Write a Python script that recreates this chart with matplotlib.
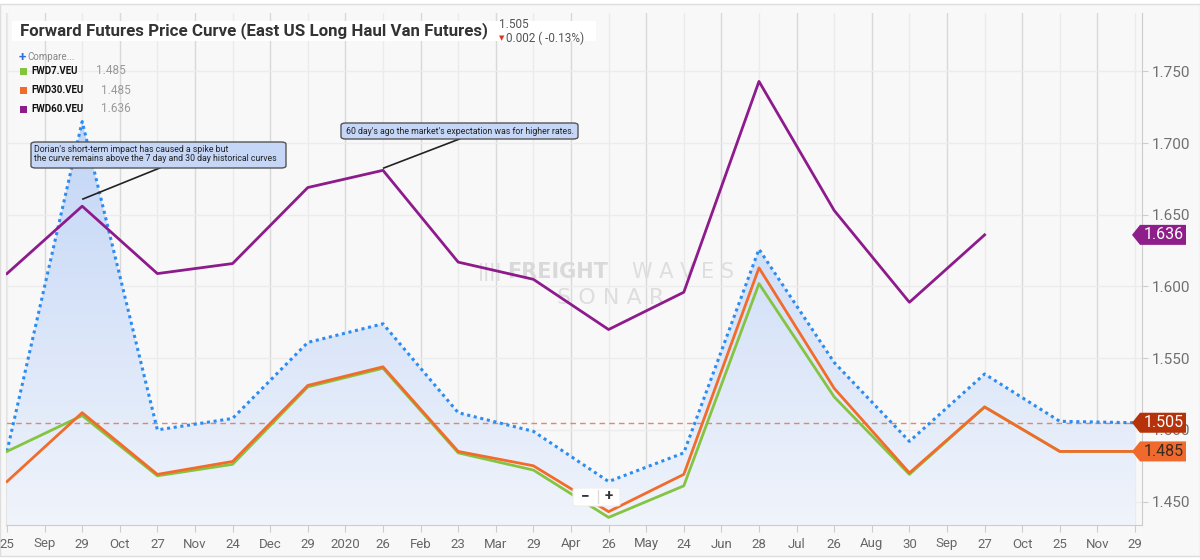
import numpy as np
import matplotlib
matplotlib.use("Agg")
import matplotlib.pyplot as plt
from matplotlib.colors import LinearSegmentedColormap
from matplotlib.patches import Rectangle, Polygon, FancyBboxPatch
import matplotlib.transforms as mtrans

plt.rcParams['font.family'] = ['Roboto', 'DejaVu Sans']

# ---------------- data ----------------
day_labels = ["25", "29", "27", "24", "29", "26", "23", "29", "26", "24",
              "28", "26", "30", "27", "25", "29"]
month_labels = ["Sep", "Oct", "Nov", "Dec", "2020", "Feb", "Mar", "Apr", "May",
                "Jun", "Jul", "Aug", "Sep", "Oct", "Nov"]

curve_main = [1.485, 1.715, 1.500, 1.508, 1.561, 1.574, 1.512, 1.499, 1.464,
              1.484, 1.626, 1.547, 1.492, 1.539, 1.506, 1.505]
fwd7 = [1.485, 1.510, 1.468, 1.476, 1.530, 1.543, 1.484, 1.472, 1.439, 1.461,
        1.602, 1.523, 1.469, 1.516, 1.485, 1.485]
fwd30 = [1.464, 1.512, 1.469, 1.478, 1.531, 1.544, 1.485, 1.475, 1.443, 1.469,
         1.613, 1.529, 1.470, 1.516, 1.485, 1.485]
fwd60 = [1.609, 1.656, 1.609, 1.616, 1.669, 1.681, 1.617, 1.605, 1.570, 1.596,
         1.743, 1.653, 1.589, 1.636]

y_ticks = [1.450, 1.500, 1.550, 1.600, 1.650, 1.700, 1.750]
last_value = 1.505

legend_names = ["FWD7.VEU", "FWD30.VEU", "FWD60.VEU"]
legend_values = ["1.485", "1.485", "1.636"]

C_BLUE = "#2d8cf0"
C_GREEN = "#84c441"
C_ORANGE = "#f26b2b"
C_PURPLE = "#8e1b8c"

W, H = 1200, 560
fig = plt.figure(figsize=(12, 5.6), dpi=100, facecolor="white")


def fx(x):
    return x / W


def fy(y):
    return 1 - y / H


# chart container background
fig.patches.append(Rectangle((fx(0), fy(556)), 1, (556 - 4) / H, transform=fig.transFigure,
                             facecolor="#f8f8f8", edgecolor="#dedede", lw=1, zorder=-10))

ax_l, ax_r, ax_t, ax_b = 6, 1142, 13, 525
ax = fig.add_axes([fx(ax_l), fy(ax_b), (ax_r - ax_l) / W, (ax_b - ax_t) / H])
ax.set_facecolor("#f8f8f8")

x_main = np.arange(len(curve_main))
x60 = np.arange(len(fwd60))
ymin, ymax = 1.4337, 1.7907
xmin, xmax = -0.013, 15.093

# gradient fill under main curve
cmap = LinearSegmentedColormap.from_list("g", ["#f0f4fb", "#b6cdf5"])
grad = np.linspace(0, 1, 256).reshape(-1, 1)
im = ax.imshow(grad, extent=[xmin, xmax, ymin, ymax], origin="lower", aspect="auto",
               cmap=cmap, zorder=1, interpolation="bicubic")
poly = ax.fill_between(x_main, curve_main, ymin, facecolor="none", edgecolor="none")
im.set_clip_path(poly.get_paths()[0], transform=ax.transData)

# grid
for i in range(len(day_labels)):
    ax.axvline(i, color="#ebebeb", lw=1, zorder=0.5)
for i in range(len(month_labels)):
    ax.axvline(i + 0.5, color="#d9d9d9", lw=1, zorder=0.5)
for t in y_ticks:
    ax.axhline(t, color="#ececec", lw=1, zorder=0.5)

# watermark
ax.text(fx(478), fy(272), "||||", transform=fig.transFigure, fontsize=12, color="#dedede",
        ha="left", va="center", zorder=1.5, fontweight="bold", family="DejaVu Sans")
ax.text(fx(507), fy(272), "FREIGHT", transform=fig.transFigure, fontsize=15, color="#d9d9d9",
        ha="left", va="center", zorder=1.5, fontweight="bold", family="DejaVu Sans")
ax.text(fx(632), fy(272), "W A V E S", transform=fig.transFigure, fontsize=15, color="#dedede",
        ha="left", va="center", zorder=1.5, family="DejaVu Sans")
ax.text(fx(611), fy(298), "S O N A R", transform=fig.transFigure, fontsize=16, color="#dedede",
        ha="center", va="center", zorder=1.5, family="DejaVu Sans")

# reference line
ax.axhline(last_value, color="#e8846a", lw=1, ls=(0, (4, 3)), zorder=2)

# series
ax.plot(x_main, curve_main, color=C_BLUE, lw=2.2, ls=(0, (1, 1.2)), zorder=3)
ax.plot(x_main, fwd7, color=C_GREEN, lw=2, zorder=4)
ax.plot(x_main, fwd30, color=C_ORANGE, lw=2, zorder=5)
ax.plot(x60, fwd60, color=C_PURPLE, lw=2, zorder=5)

ax.set_xlim(xmin, xmax)
ax.set_ylim(ymin, ymax)

# x ticks
pos = []
labs = []
for i in range(len(day_labels)):
    pos.append(i)
    labs.append(day_labels[i])
    if i < len(month_labels):
        pos.append(i + 0.5)
        labs.append(month_labels[i])
ax.set_xticks(pos)
ax.set_xticklabels(labs)
ax.tick_params(axis="x", length=5, color="#cccccc", labelcolor="#666666", labelsize=9.5, pad=4)

# y ticks on the right
ax.yaxis.tick_right()
ax.set_yticks(y_ticks)
ax.set_yticklabels([f"{t:.3f}" for t in y_ticks])
ax.tick_params(axis="y", length=4, color="#cccccc", labelcolor="#707070", labelsize=11, pad=3)

ax.spines["top"].set_visible(False)
ax.spines["left"].set_color("#e4e4e4")
ax.spines["bottom"].set_color("#cccccc")
ax.spines["right"].set_color("#cccccc")

# badges on the right axis
bt = mtrans.blended_transform_factory(ax.transAxes, ax.transData)
aw = ax_r - ax_l
tip = (1132 - ax_l) / aw
body = (1140 - ax_l) / aw
right = (1186 - ax_l) / aw
hh = 10 / 1434


def badge(v, fc, tc, text):
    p = Polygon([(tip, v), (body, v + hh), (right, v + hh), (right, v - hh), (body, v - hh)],
                closed=True, transform=bt, facecolor=fc, edgecolor="none", clip_on=False, zorder=10)
    ax.add_patch(p)
    ax.text((body + right) / 2 + 0.0005, v, text, transform=bt, ha="center", va="center",
            color=tc, fontsize=11.5, zorder=11, clip_on=False)


badge(fwd60[-1], "#8e1f8a", "white", f"{fwd60[-1]:.3f}")
badge(last_value, "#b5320a", "white", f"{last_value:.3f}")
badge(fwd30[-1], "#f06a2e", "#3a2a20", f"{fwd30[-1]:.3f}")

# annotation connectors (from point near the curve up to the callout boxes)
ax.plot([1.01, 2.03], [1.661, 1.6826], color="#222222", lw=1.2, zorder=8)
ax.plot([5.01, 6.02], [1.6826, 1.7029], color="#222222", lw=1.2, zorder=8)

fig.patches.append(FancyBboxPatch((fx(31), fy(168)), (286 - 31) / W, (168 - 142) / H,
                                  boxstyle="round,pad=0,rounding_size=0.004",
                                  transform=fig.transFigure, facecolor="#c5d6f6",
                                  edgecolor="#555555", lw=1, zorder=20))
fig.text(fx(34), fy(149.5), "Dorian's short-term impact has caused a spike but",
         fontsize=6.3, color="#222222", ha="left", va="center", zorder=21)
fig.text(fx(34), fy(158.5), "the curve remains above the 7 day and 30 day historical curves",
         fontsize=6.3, color="#222222", ha="left", va="center", zorder=21)

fig.patches.append(FancyBboxPatch((fx(341), fy(139)), (578 - 341) / W, (139 - 123) / H,
                                  boxstyle="round,pad=0,rounding_size=0.004",
                                  transform=fig.transFigure, facecolor="#c5d6f6",
                                  edgecolor="#555555", lw=1, zorder=20))
fig.text(fx(459.5), fy(131), "60 day's ago the market's expectation was for higher rates.",
         fontsize=6.3, color="#222222", ha="center", va="center", zorder=21)

# zoom buttons
fig.patches.append(FancyBboxPatch((fx(573), fy(506)), (620 - 573) / W, (506 - 488) / H,
                                  boxstyle="round,pad=0,rounding_size=0.003",
                                  transform=fig.transFigure, facecolor="white",
                                  edgecolor="#eeeeee", lw=0.8, zorder=20))
fig.text(fx(585), fy(496), "−", fontsize=11, color="#333333", ha="center", va="center",
         zorder=21, fontweight="bold")
fig.text(fx(609), fy(496), "+", fontsize=11, color="#333333", ha="center", va="center",
         zorder=21, fontweight="bold")
fig.lines.append(plt.Line2D([fx(598), fx(598)], [fy(490), fy(503)], transform=fig.transFigure,
                            color="#dddddd", lw=1, zorder=21))

# title block
fig.patches.append(Rectangle((fx(12), fy(41)), (596 - 12) / W, 20 / H, transform=fig.transFigure,
                             facecolor="white", edgecolor="none", zorder=20))
fig.text(fx(20), fy(31), "Forward Futures Price Curve (East US Long Haul Van Futures)",
         fontsize=12.2, fontweight="bold", color="#333333", ha="left", va="center", zorder=21)
fig.text(fx(499), fy(25), f"{last_value:.3f}", fontsize=8.5, color="#555555",
         ha="left", va="center", zorder=21)
fig.text(fx(499), fy(38), "▼", fontsize=5, color="#d9381e", ha="left", va="center",
         zorder=21, family="DejaVu Sans")
fig.text(fx(506), fy(38), "0.002 ( -0.13%)", fontsize=8.5, color="#555555",
         ha="left", va="center", zorder=21)

# legend
fig.text(fx(19), fy(57), "+", fontsize=9.5, color="#2a6ee0", ha="left", va="center",
         zorder=21, fontweight="bold")
fig.text(fx(27), fy(57.5), "Compare...", fontsize=7, color="#888888", ha="left", va="center",
         zorder=21)
leg_cols = [C_GREEN, C_ORANGE, C_PURPLE]
leg_y = [71, 90, 109]
leg_vx = [96, 101, 101]
for name, val, col, yy, vx in zip(legend_names, legend_values, leg_cols, leg_y, leg_vx):
    fig.patches.append(Rectangle((fx(20), fy(yy + 3.5)), 7 / W, 7 / H, transform=fig.transFigure,
                                 facecolor=col, edgecolor="none", zorder=21))
    fig.text(fx(31), fy(yy), name, fontsize=7, fontweight="bold", color="#111111",
             ha="left", va="center", zorder=21)
    fig.text(fx(vx), fy(yy), val, fontsize=8.5, color="#999999", ha="left", va="center",
             zorder=21)

fig.savefig("out.png", dpi=100, facecolor="white")
